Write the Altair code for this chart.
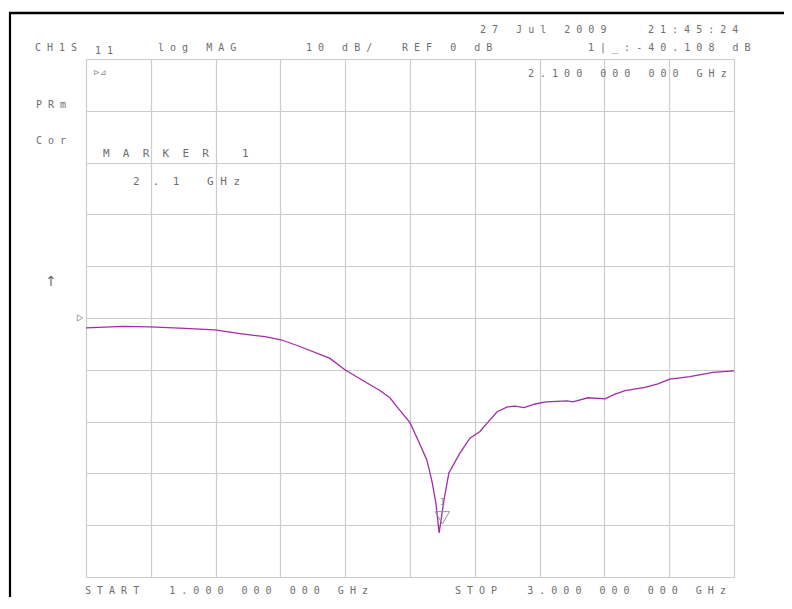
import altair as alt
import pandas as pd

# ---- data (S11 log magnitude, dB) ----
freq_ghz = [1.000, 1.114, 1.198, 1.306, 1.398, 1.475, 1.552, 1.602, 1.660, 1.753,
            1.799, 1.861, 1.907, 1.938, 1.963, 2.000, 2.025, 2.052, 2.068, 2.080,
            2.090, 2.105, 2.120, 2.154, 2.185, 2.216, 2.238, 2.269, 2.299, 2.324,
            2.352, 2.386, 2.420, 2.485, 2.503, 2.549, 2.602, 2.633, 2.664, 2.725,
            2.765, 2.802, 2.864, 2.935, 3.000]
s11_db = [-1.9, -1.6, -1.7, -2.0, -2.3, -3.0, -3.6, -4.2, -5.5, -7.8,
          -10.0, -12.3, -14.0, -15.4, -17.4, -20.2, -23.6, -27.4, -31.6, -35.8,
          -41.5, -35.1, -29.9, -26.1, -23.2, -21.9, -20.3, -18.1, -17.2, -17.0,
          -17.3, -16.6, -16.2, -16.0, -16.2, -15.4, -15.6, -14.7, -14.0, -13.4,
          -12.7, -11.8, -11.3, -10.5, -10.2]
marker_freq = [2.1]
marker_db = [-40.108]
x_grid = [1.0, 1.2, 1.4, 1.6, 1.8, 2.0, 2.2, 2.4, 2.6, 2.8, 3.0]
y_grid = [-50, -40, -30, -20, -10, 0, 10, 20, 30, 40, 50]

W, H = 648, 518
OX, OY = 86, 59  # page position of plot origin
TXT = "#6e6e6e"
FONT = "DejaVu Sans Mono"
NB = "\u00a0"

df = pd.DataFrame({"f": freq_ghz, "db": s11_db})
mdf = pd.DataFrame({"f": marker_freq, "db": marker_db})
one = pd.DataFrame({"a": [0]})

xs = alt.Scale(domain=[1, 3], nice=False, zero=False)
ys = alt.Scale(domain=[-50, 50], nice=False, zero=False)

xax = alt.Axis(values=x_grid, grid=True, labels=False, ticks=False, domain=False,
               title=None, gridColor="#cdcdcd", gridWidth=1.2, gridOpacity=1)
yax = alt.Axis(values=y_grid, grid=True, labels=False, ticks=False, domain=False,
               title=None, gridColor="#cdcdcd", gridWidth=1.2, gridOpacity=1)

trace = alt.Chart(df).mark_line(color="#a22ca8", strokeWidth=1.3).encode(
    x=alt.X("f:Q", scale=xs, axis=xax),
    y=alt.Y("db:Q", scale=ys, axis=yax),
)

marker = alt.Chart(mdf).mark_point(shape="triangle-down", filled=False, size=200,
                                   color="#909090", strokeWidth=1, yOffset=-8, opacity=1).encode(
    x=alt.X("f:Q", scale=xs), y=alt.Y("db:Q", scale=ys))
marker_num = alt.Chart(mdf).mark_text(text="1", fontSize=9, color="#909090", dy=-24,
                                      font=FONT).encode(
    x=alt.X("f:Q", scale=xs), y=alt.Y("db:Q", scale=ys))

ref_tri = alt.Chart(one).mark_point(shape="triangle-right", filled=False, size=40,
                                    color="#a8a8a8", strokeWidth=1, opacity=1).encode(
    x=alt.value(80 - OX), y=alt.datum(0))


def sp(s, n=1):
    s = s.replace(" ", NB)
    return (NB * n).join(s)


def label(text, px, py, size=10, color=TXT, align="left", font=FONT):
    return alt.Chart(one).mark_text(text=text, align=align, baseline="alphabetic",
                                    font=font, fontSize=size, color=color).encode(
        x=alt.value(px - OX), y=alt.value(py - OY))


labels = [
    label(sp("27 Jul 2009"), 480, 33),
    label(sp("21:45:24"), 648, 33),
    label(sp("CH1S"), 35, 51),
    label(sp("11"), 95, 54),
    label(sp("log MAG"), 158, 51),
    label(sp("10 dB/"), 306, 51),
    label(sp("REF 0 dB"), 402, 51),
    label(sp("1|_:-40.108 dB"), 588, 51),
    label(sp("2.100 000 000 GHz"), 528, 77),
    label(sp("PRm"), 36, 108),
    label(sp("Cor"), 36, 144),
    label(sp("MARKER 1", 2), 103, 157, size=11),
    label(sp("2.1", 2), 133, 185, size=11),
    label(sp("GHz"), 207, 185, size=11),
    label("↑", 51, 286, size=14, align="center", font="DejaVu Sans"),
    label("⊳⊿", 93, 75, size=8, color="#888888", font="DejaVu Sans"),
    label(sp("START  1.000 000 000 GHz"), 85, 594),
    label(sp("STOP  3.000 000 000 GHz"), 455, 594),
]

frame_left = alt.Chart(one).mark_rule(color="black", strokeWidth=2.2).encode(
    x=alt.value(10 - OX), y=alt.value(12 - OY), y2=alt.value(640 - OY))
frame_top = alt.Chart(one).mark_rule(color="black", strokeWidth=2.5).encode(
    x=alt.value(9 - OX), x2=alt.value(800 - OX), y=alt.value(13 - OY))

chart = alt.layer(trace, marker, marker_num, ref_tri, frame_left, frame_top, *labels).properties(
    width=W, height=H,
    autosize=alt.AutoSizeParams(type="none"),
    padding={"left": OX - 8, "top": OY - 8, "right": 50, "bottom": 20},
).configure_view(stroke="#cdcdcd", strokeWidth=1.2).configure(background="white")

chart.save("out.html", embed_options={"renderer": "svg", "actions": False})
